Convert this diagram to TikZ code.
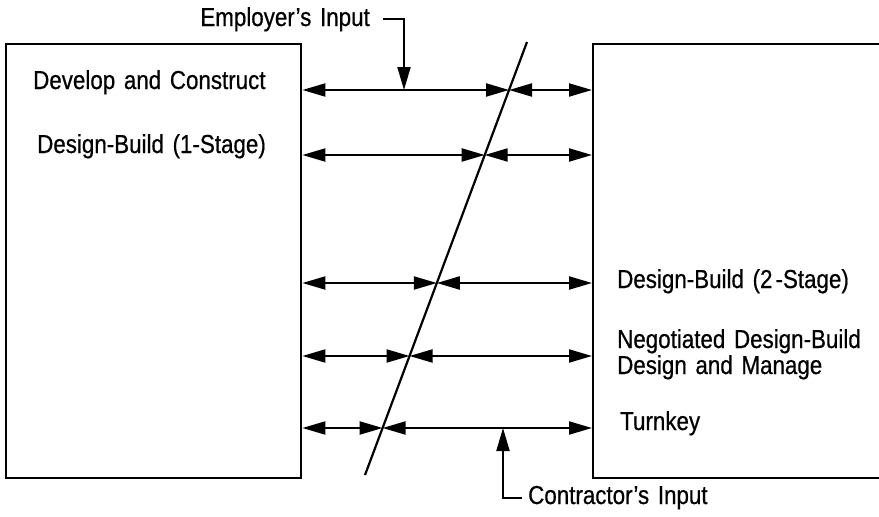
\documentclass[tikz,border=0pt]{standalone}
\usepackage{fontspec}
\setmainfont{Liberation Sans}[FakeStretch=0.86,WordSpace=1.4,FakeBold=0.6]
\usetikzlibrary{calc}
\usetikzlibrary{arrows.meta}
\tikzset{%
  myarrow/.style={{Triangle[length=23pt,width=13pt]}-{Triangle[length=23pt,width=13pt]}, line width=2.1pt},
  myinput/.style={-{Triangle[length=23pt,width=13pt]}, line width=2.1pt},
  mybox/.style={draw=black, line width=2.4pt, anchor=north west, inner sep=0pt},
  mytext/.style={anchor=base west, inner sep=0pt, font=\fontsize{26}{24}\selectfont}
}

\begin{document}
\begin{tikzpicture}[x=1pt,y=-1pt]
  \useasboundingbox (0,0) rectangle (879,517);
  \clip (0,0) rectangle (879,517);
  \node[mybox, minimum width=295pt, minimum height=434pt] (lbox) at (5,43) {};
  \node[mybox, minimum width=320pt, minimum height=434pt] (rbox) at (592,43) {};
  \node[mytext] (dac) at (33,89) {Develop and Construct};
  \node[mytext] (db1) at (37,153) {Design-Build (1-Stage)};
  \node[mytext] (db2) at (617,288) {Design-Build (2\kern3pt-Stage)};
  \node[mytext] (ndb) at (617,348) {Negotiated Design-Build};
  \node[mytext] (dam) at ($(ndb.base west)+(0,26)$) {Design and Manage};
  \node[mytext] (tky) at (620,430) {Turnkey};
  % the slanted dividing line
  \coordinate (dtop) at (527,42);
  \coordinate (dbot) at (365,475);
  \draw [line width=2.2pt] (dtop) -- (dbot);
  \foreach \r/\y in {1/90,2/155,3/283,4/356,5/428} {
    \coordinate (c\r) at ($(dtop)!{(\y-42)/433}!(dbot)$);
    \draw [myarrow] (lbox.east |- c\r) -- (c\r);
    \draw [myarrow] (c\r) -- (rbox.west |- c\r);
  }
  \node[mytext, anchor=base east] (emp) at (370,26) {Employer’s Input};
  \coordinate (ein) at (404,90);
  \draw [myinput] ([xshift=13pt]emp.east) -| (ein);
  \node[mytext] (con) at (528,504) {Contractor’s Input};
  \coordinate (cin) at (503,428);
  \draw [myinput] ([xshift=-6pt]con.west) -| (cin);
\end{tikzpicture}
\end{document}
